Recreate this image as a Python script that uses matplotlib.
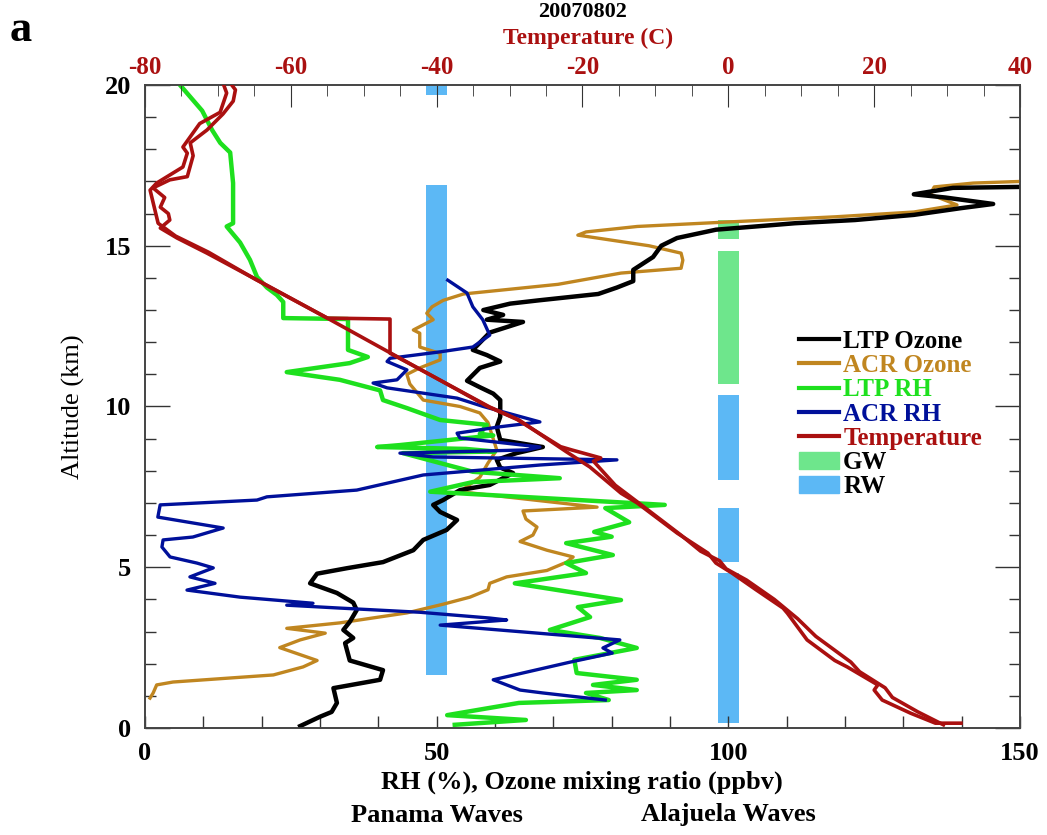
import matplotlib
matplotlib.use("Agg")
import matplotlib.pyplot as plt
from matplotlib.ticker import MultipleLocator
from matplotlib.lines import Line2D
from matplotlib.patches import Patch

plt.rcParams['font.family'] = ['Liberation Serif', 'DejaVu Serif']
plt.rcParams['font.weight'] = 'bold'
plt.rcParams['axes.unicode_minus'] = False

# ---- data (x in ppbv / %, altitude in km) ----
ltp_o3_x = [26.6, 30, 32, 32.9, 32.3, 40.3, 40.8, 35.1, 34.3, 35.7, 34, 35.1, 36.3, 35.7, 32.9,
            28.3, 29.5, 34.6, 40.8, 46, 47.7, 51.7, 53.5, 50.6, 49.4, 51.1, 54, 59.1, 63.1, 60.9,
            60.3, 63.7, 68.2, 60.9, 60.3, 60.9, 60.9, 59.7, 57.4, 55.2, 57.4, 60.9, 58.6, 56.2,
            59.1, 64.8, 58.6, 61.4, 58, 62.6, 67.4, 77.7, 80.9, 83.7, 83.7, 87.1, 88.5, 91.2,
            97.9, 104.7, 111.4, 121.7, 131.8, 139.9, 145.4, 137.2, 131.8, 138.5, 150]
ltp_o3_z = [0.06, 0.35, 0.5, 0.78, 1.24, 1.5, 1.8, 2.1, 2.64, 2.8, 3.05, 3.3, 3.67, 3.9, 4.2,
            4.5, 4.8, 4.97, 5.16, 5.53, 5.85, 6.16, 6.47, 6.72, 6.94, 7.09, 7.4, 7.56, 7.93, 8.1,
            8.34, 8.55, 8.74, 8.96, 9.37, 9.68, 10.2, 10.4, 10.6, 10.8, 11.2, 11.4, 11.6, 11.76,
            12.3, 12.63, 12.7, 12.85, 13.0, 13.2, 13.3, 13.5, 13.7, 13.9, 14.25, 14.65, 15.0, 15.24,
            15.5, 15.6, 15.7, 15.8, 15.96, 16.17, 16.3, 16.5, 16.6, 16.8, 16.83]

acr_o3_x = [0.86, 1.4, 2, 4.8, 22, 27.1, 29.5, 23.1, 26.6, 30.9, 24.3, 33.4, 44.9, 51.1, 55.7,
            58.8, 59.1, 62, 68.9, 72.3, 73.4, 68.9, 64.3, 66.5, 67.2, 65.3, 64.8, 77.5, 54, 57.4,
            58.8, 60.3, 58.8, 57.4, 54, 47.7, 45.4, 44.9, 47.1, 50.6, 50.6, 47.1, 47.1, 46, 49.4,
            48.3, 49.2, 51.1, 54.6, 70.8, 81.6, 91.9, 92.2, 91.9, 86.4, 74.2, 75.6, 84.4, 100,
            118.3, 131.8, 139.2, 134.6, 135.3, 142, 150]
acr_o3_z = [0.93, 1.09, 1.34, 1.43, 1.65, 1.9, 2.1, 2.5, 2.74, 2.95, 3.1, 3.27, 3.58, 3.85, 4.07,
            4.3, 4.5, 4.7, 4.9, 5.16, 5.32, 5.53, 5.8, 6.0, 6.25, 6.5, 6.75, 6.87, 7.35, 7.8,
            8.24, 8.65, 9.5, 9.8, 10.0, 10.2, 10.7, 11.0, 11.2, 11.45, 11.65, 11.85, 12.28, 12.38,
            12.7, 12.9, 13.1, 13.3, 13.5, 13.8, 14.15, 14.3, 14.55, 14.77, 15.0, 15.33, 15.43,
            15.6, 15.74, 15.9, 16.05, 16.27, 16.6, 16.83, 16.95, 17.0]

ltp_rh_x = [6, 9.8, 11.5, 12.9, 14.6, 15.1, 15.1, 14, 16.3, 18, 19.2, 20.9, 22.6, 23.7, 23.7,
            34.8, 34.8, 38.2, 35.1, 24.3, 33.4, 40.3, 40.8, 44.9, 50.6, 58.6, 57.4, 59.7, 43.7,
            39.8, 55, 60, 44.2, 56.2, 71.1, 56.2, 48.9, 89.1, 78.9, 83, 77, 80, 72.2, 80.2, 72.2,
            75.6, 63.4, 81.6, 74.2, 76.3, 69.4, 78, 84.3, 73.6, 74, 84.3, 76.8, 84.3, 75.6, 79.5,
            64.1, 51.8, 65.3, 53.1]
ltp_rh_z = [20, 19.2, 18.6, 18.2, 17.9, 16.95, 15.7, 15.6, 15.1, 14.56, 14.03, 13.7, 13.47, 13.25,
            12.75, 12.72, 11.76, 11.54, 11.35, 11.07, 10.83, 10.5, 10.2, 9.95, 9.58, 9.43, 9.15,
            9.1, 8.8, 8.74, 8.68, 8.6, 8.55, 7.97, 7.77, 7.65, 7.35, 6.94, 6.84, 6.4, 6.1, 5.95,
            5.75, 5.38, 5.13, 4.82, 4.5, 3.98, 3.76, 3.45, 3.05, 2.8, 2.49, 2.12, 1.71, 1.5, 1.34,
            1.18, 1.09, 0.87, 0.78, 0.4, 0.25, 0.1]

acr_rh_x = [51.9, 55.2, 56.2, 57.9, 59.1, 56.2, 50.6, 42, 41.5, 44.9, 43.2, 39.1, 41.5, 53.5, 58,
            67.7, 60.9, 53.5, 54, 67.7, 65.5, 43.7, 49.4, 80.9, 67.7, 47.7, 36.3, 20.9, 19.2, 2.6,
            2.2, 13.4, 8.2, 3.1, 2.9, 4.3, 8.9, 11.7, 7.7, 12, 7.2, 16.3, 28.8, 24.3, 33.4, 47.1,
            59.1, 62, 50.6, 81.4, 78.5, 80.1, 72.9, 59.7, 64.3, 68.2, 78.9]
acr_rh_z = [13.93, 13.53, 13.1, 12.7, 12.22, 11.85, 11.7, 11.5, 11.4, 11.14, 10.83, 10.73, 10.58,
            10.26, 10.0, 9.52, 9.37, 9.17, 9.02, 8.74, 8.65, 8.55, 8.43, 8.34, 8.18, 7.87, 7.4,
            7.19, 7.09, 6.94, 6.56, 6.22, 5.94, 5.85, 5.63, 5.32, 5.13, 4.98, 4.7, 4.5, 4.29, 4.07,
            3.88, 3.82, 3.73, 3.6, 3.42, 3.36, 3.2, 2.74, 2.49, 2.33, 2.05, 1.5, 1.18, 1.09, 0.87]

# temperature (C), two soundings
temp_a_t = [31.9, 28.4, 25, 21.1, 20, 20.5, 16.3, 14.6, 10.8, 8.1, 7.5, 3.8, 0.5, -1.7, -2.8, -7,
            -12.5, -14.7, -19, -22.2, -28.7, -32.7, -41, -46.3, -55, -64.6, -71.5, -75.6, -77.9,
            -76.6, -76.8, -77.9, -77.3, -78.9, -76.6, -74.2, -73.4, -73.8, -71.5, -69.3, -67.9,
            -67.6, -68.3]
temp_a_z = [0.15, 0.15, 0.46, 0.87, 1.18, 1.34, 1.9, 2.1, 2.74, 3.57, 3.73, 4.3, 4.82, 5.13, 5.44,
            6.06, 7.0, 7.3, 8.12, 8.59, 9.58, 9.98, 11.0, 11.66, 12.75, 13.93, 14.77, 15.24, 15.55,
            15.8, 16.0, 16.2, 16.5, 16.8, 17.05, 17.15, 17.8, 18.2, 18.6, 19.1, 19.5, 19.85, 20.06]
temp_b_t = [29.5, 26, 22.5, 21.5, 18, 16.8, 12, 9.5, 6.3, 2.5, -0.3, -1.2, -3.8, -6.5, -12, -15.5,
            -18.5, -17.5, -21.5, -23, -29, -33, -41, -46.4, -46.4, -55, -64.8, -71.3, -75.8, -78.2,
            -79.3, -78.4, -74.8, -74.2, -74.8, -72.5, -69.7, -68.8, -69.3]
temp_b_z = [0.1, 0.5, 0.95, 1.25, 1.75, 2.05, 2.85, 3.4, 4.0, 4.6, 4.95, 5.2, 5.5, 6.0, 6.95, 7.55,
            8.3, 8.4, 8.65, 8.75, 9.6, 10.0, 11.0, 11.66, 12.72, 12.75, 13.95, 14.8, 15.3, 15.7,
            16.73, 16.95, 17.45, 17.88, 18.07, 18.8, 19.15, 19.75, 20.06]

# wave layers: (x position, bottom km, top km)
rw_x = [50, 50, 100, 100, 100]
rw_bot = [1.65, 19.7, 0.15, 5.16, 7.7]
rw_top = [16.9, 20.0, 4.83, 6.84, 10.36]
gw_x = [100, 100]
gw_bot = [10.7, 15.2]
gw_top = [14.85, 15.8]

c_black = '#000000'
c_acro3 = '#C08620'
c_ltprh = '#1EE01E'
c_acrrh = '#00109A'
c_temp = '#AA1010'
c_gw = '#6EE68C'
c_rw = '#5CB8F5'

fig = plt.figure(figsize=(10.47, 8.35), dpi=100)
ax = fig.add_axes([145 / 1047, 1 - 728 / 835, 875 / 1047, 643 / 835])

ax.bar(rw_x, [t - b for t, b in zip(rw_top, rw_bot)], bottom=rw_bot, width=3.5,
       color=c_rw, zorder=1)
ax.bar(gw_x, [t - b for t, b in zip(gw_top, gw_bot)], bottom=gw_bot, width=3.5,
       color=c_gw, zorder=1)

ax.plot(acr_o3_x, acr_o3_z, color=c_acro3, lw=2.4, zorder=3)
ax.plot(ltp_o3_x, ltp_o3_z, color=c_black, lw=3.2, zorder=3)
ax.plot(ltp_rh_x, ltp_rh_z, color=c_ltprh, lw=3.2, zorder=3)
ax.plot(acr_rh_x, acr_rh_z, color=c_acrrh, lw=2.4, zorder=3)

ax.set_xlim(0, 150)
ax.set_ylim(0, 20)
ax.xaxis.set_major_locator(MultipleLocator(50))
ax.xaxis.set_minor_locator(MultipleLocator(10))
ax.yaxis.set_major_locator(MultipleLocator(5))
ax.yaxis.set_minor_locator(MultipleLocator(1))
ax.tick_params(axis='both', which='both', direction='in', right=True, top=False,
               labelsize=19, width=1, color='#333333')
ax.tick_params(axis='x', which='major', length=9, pad=10)
ax.tick_params(axis='x', which='minor', length=9)
ax.tick_params(axis='y', which='major', length=18, pad=10)
ax.tick_params(axis='y', which='minor', length=8)

ax2 = ax.twiny()
ax2.plot(temp_a_t, temp_a_z, color=c_temp, lw=2.6, zorder=4)
ax2.plot(temp_b_t, temp_b_z, color=c_temp, lw=2.6, zorder=4)
ax2.set_xlim(-80, 40)
ax2.xaxis.set_major_locator(MultipleLocator(20))
ax2.xaxis.set_minor_locator(MultipleLocator(5))
ax2.tick_params(axis='x', which='both', direction='in', labelsize=18, labelcolor=c_temp,
                color='#333333', pad=4)
ax2.tick_params(axis='x', which='major', length=16)
ax2.tick_params(axis='x', which='minor', length=8)

for a in (ax, ax2):
    for s in a.spines.values():
        s.set_color('#444444')
        s.set_linewidth(1.2)

ax.set_ylabel('Altitude (km)', fontsize=19, labelpad=14)
fig.text(582 / 1047, 1 - 782 / 835, 'RH (%), Ozone mixing ratio (ppbv)', fontsize=19,
         ha='center', va='center')
fig.text(437 / 1047, 1 - 815 / 835, 'Panama Waves', fontsize=19, ha='center', va='center')
fig.text(728 / 1047, 1 - 815 / 835, 'Alajuela Waves', fontsize=19, ha='center', va='center')
fig.text(583 / 1047, 1 - 12 / 835, '20070802', fontsize=16, ha='center', va='center')
fig.text(588 / 1047, 1 - 38.5 / 835, 'Temperature (C)', fontsize=17, ha='center', va='center',
         color=c_temp)
fig.text(10 / 1047, 1 - 30 / 835, 'a', fontsize=32, ha='left', va='center')

handles = [Line2D([], [], color=c_black, lw=3),
           Line2D([], [], color=c_acro3, lw=3),
           Line2D([], [], color=c_ltprh, lw=3),
           Line2D([], [], color=c_acrrh, lw=3),
           Line2D([], [], color=c_temp, lw=3),
           Patch(color=c_gw),
           Patch(color=c_rw)]
labels = ['LTP Ozone', 'ACR Ozone', 'LTP RH', 'ACR RH', 'Temperature', 'GW', 'RW']
leg = ax.legend(handles, labels, loc='upper left', bbox_to_anchor=(0.748, 0.619),
                frameon=False, fontsize=18, handlelength=1.6, handletextpad=0.15,
                labelspacing=0.05, borderpad=0, borderaxespad=0,
                labelcolor=[c_black, c_acro3, c_ltprh, c_acrrh, c_temp, 'black', 'black'])
leg.set_zorder(10)

fig.savefig('out.png', dpi=100)
